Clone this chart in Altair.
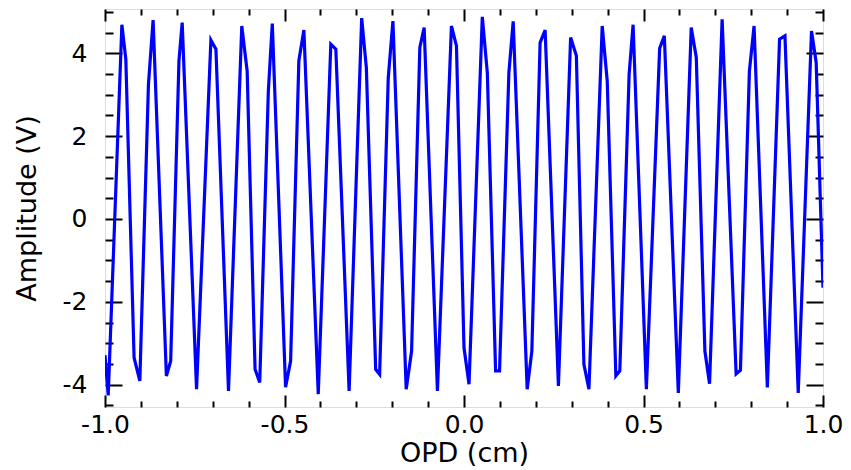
import altair as alt
import pandas as pd

# OPD (cm) and amplitude (V) of the vertices
opd = [-1.000, -0.991, -0.953, -0.942, -0.919, -0.903, -0.879, -0.866, -0.829, -0.817,
       -0.794, -0.785, -0.745, -0.705, -0.691, -0.656, -0.619, -0.604, -0.582, -0.569,
       -0.545, -0.534, -0.497, -0.483, -0.460, -0.446, -0.406, -0.371, -0.357, -0.320,
       -0.285, -0.272, -0.246, -0.235, -0.211, -0.198, -0.161, -0.146, -0.123, -0.111,
       -0.074, -0.035, -0.021, 0.000, 0.014, 0.051, 0.065, 0.088, 0.099, 0.125,
       0.137, 0.176, 0.189, 0.212, 0.226, 0.263, 0.297, 0.313, 0.334, 0.348,
       0.385, 0.399, 0.423, 0.434, 0.460, 0.471, 0.508, 0.545, 0.558, 0.597,
       0.633, 0.647, 0.671, 0.684, 0.719, 0.758, 0.770, 0.795, 0.808, 0.845,
       0.879, 0.894, 0.931, 0.968, 0.981, 1.000]
amp = [-3.29, -4.26, 4.69, 3.86, -3.35, -3.91, 3.25, 4.80, -3.79, -3.43,
       3.82, 4.74, -4.11, 4.32, 4.10, -4.15, 4.66, 3.57, -3.63, -3.95,
       3.09, 4.72, -4.06, -3.43, 3.82, 4.56, -4.23, 4.22, 4.10, -4.15,
       4.85, 3.65, -3.63, -3.75, 3.41, 4.78, -4.11, -3.19, 4.14, 4.62,
       -4.15, 4.66, 4.18, -3.11, -3.99, 4.88, 3.53, -3.67, -3.67, 3.53,
       4.77, -4.11, -3.19, 4.26, 4.56, -4.03, 4.38, 3.94, -3.51, -4.11,
       4.66, 3.33, -3.79, -3.67, 3.50, 4.69, -4.11, 4.12, 4.42, -4.20,
       4.62, 3.90, -3.19, -3.98, 4.82, -3.74, -3.65, 3.57, 4.66, -4.07,
       4.34, 4.42, -4.20, 4.54, 3.78, -1.66]

x_ticks = [-1.0, -0.9, -0.8, -0.7, -0.6, -0.5, -0.4, -0.3, -0.2, -0.1, 0.0,
           0.1, 0.2, 0.3, 0.4, 0.5, 0.6, 0.7, 0.8, 0.9, 1.0]
x_labels = [-1.0, -0.5, 0.0, 0.5, 1.0]
y_ticks = [-4.5, -4.0, -3.5, -3.0, -2.5, -2.0, -1.5, -1.0, -0.5, 0.0,
           0.5, 1.0, 1.5, 2.0, 2.5, 3.0, 3.5, 4.0, 4.5, 5.0]
y_labels = [-4, -2, 0, 2, 4]

df = pd.DataFrame({"opd": opd, "amp": amp})

W, H = 718, 398
FONT = "DejaVu Sans"
HYPHEN = "replace(datum.label, '\u2212', '-')"

xscale = alt.Scale(domain=[-1.0, 1.0], nice=False, zero=False)
yscale = alt.Scale(domain=[-4.54, 5.07], nice=False, zero=False)

x_major = "abs(datum.value*2 - round(datum.value*2)) < 0.001"
y_major = "abs(datum.value/2 - round(datum.value/2)) < 0.001"

main = alt.Chart(df).mark_line(color="#0000FF", strokeWidth=3.2, clip=True).encode(
    x=alt.X("opd:Q", scale=xscale, axis=alt.Axis(
        orient="bottom", values=x_labels, format=".1f", labelExpr=HYPHEN,
        ticks=False, domain=False, grid=False, title="OPD (cm)",
        labelFont=FONT, labelFontSize=25, labelColor="black", labelPadding=5,
        titleFont=FONT, titleFontSize=27, titleFontWeight="normal",
        titleColor="black", titlePadding=3, labelFlush=False)),
    y=alt.Y("amp:Q", scale=yscale, axis=alt.Axis(
        orient="left", values=y_labels, format="d", labelExpr=HYPHEN,
        ticks=False, domain=False, grid=False, title="Amplitude (V)",
        labelFont=FONT, labelFontSize=25, labelColor="black", labelPadding=18,
        titleFont=FONT, titleFontSize=27, titleFontWeight="normal",
        titleColor="black", titlePadding=21)),
)

def tick_axis(orient, values, test, major, minor, offset):
    return alt.Axis(
        orient=orient, values=values, labels=False, domain=False, grid=False,
        title=None, ticks=True, tickColor="black", tickWidth=2,
        tickSize={"condition": {"test": test, "value": major}, "value": minor},
        offset=offset)

# inward ticks on bottom/left
ticks1 = alt.Chart(df).mark_line(opacity=0).encode(
    x=alt.X("opd:Q", scale=xscale, axis=tick_axis("top", x_ticks, x_major, 12, 6, -H)),
    y=alt.Y("amp:Q", scale=yscale, axis=tick_axis("right", y_ticks, y_major, 17, 8, -W)),
)
# inward ticks on top/right
ticks2 = alt.Chart(df).mark_line(opacity=0).encode(
    x=alt.X("opd:Q", scale=xscale, axis=tick_axis("bottom", x_ticks, x_major, 12, 6, -H)),
    y=alt.Y("amp:Q", scale=yscale, axis=tick_axis("left", y_ticks, y_major, 17, 8, -W)),
)

chart = alt.layer(main, ticks1, ticks2).resolve_axis(
    x="independent", y="independent"
).properties(
    width=W, height=H,
    padding={"left": 5, "top": 0, "right": 0, "bottom": 0},
).configure_view(stroke="black", strokeWidth=2).configure(background="white")

chart.save("out.html", embed_options={"renderer": "svg", "actions": False})
